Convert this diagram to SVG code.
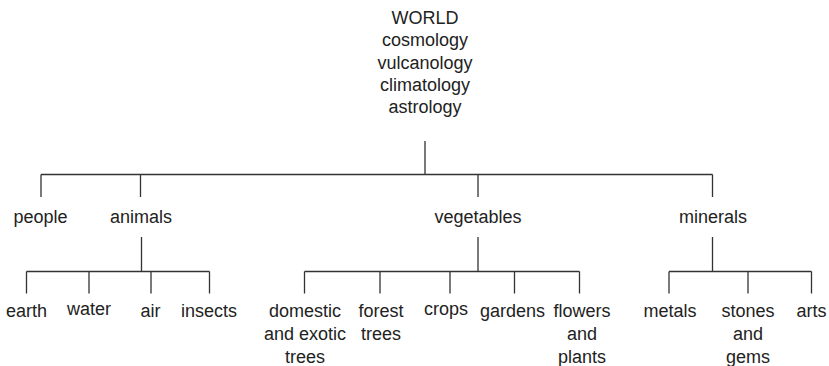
<svg xmlns="http://www.w3.org/2000/svg" width="829" height="366" viewBox="0 0 829 366">
  <style>
    text { font-family: "Liberation Sans", Arial, sans-serif; font-size: 18px; fill: #222; text-anchor: middle; }
    .link { stroke: #333; stroke-width: 1.3; fill: none; }
  </style>
  <rect width="829" height="366" fill="#fff"/>

  <g id="connectors">
    <!-- root to first level -->
    <path class="link" d="M425 141V174.5M41 174.5H712.5M41 174.5V197M140.5 174.5V197M478 174.5V197M712.5 174.5V197"/>
    <!-- animals -->
    <path class="link" d="M141.5 237V271.5M26.5 271.5H209.5M26.5 271.5V293.5M89 271.5V293.5M151 271.5V293.5M209.5 271.5V293.5"/>
    <!-- vegetables -->
    <path class="link" d="M478 237V271.5M304.5 271.5H579.5M304.5 271.5V293.5M380 271.5V293.5M450 271.5V293.5M514.5 271.5V293.5M579.5 271.5V293.5"/>
    <!-- minerals -->
    <path class="link" d="M712.5 237V271.5M669 271.5H811.5M669 271.5V293.5M748 271.5V293.5M811.5 271.5V293.5"/>
  </g>

  <g id="world">
    <text x="425" y="23.5">WORLD</text>
    <text x="425" y="46.3">cosmology</text>
    <text x="425" y="68.6">vulcanology</text>
    <text x="425" y="90.9">climatology</text>
    <text x="425" y="113.2">astrology</text>
  </g>

  <g id="people"><text x="40.5" y="223">people</text></g>
  <g id="animals"><text x="141" y="223">animals</text></g>
  <g id="vegetables"><text x="478" y="223">vegetables</text></g>
  <g id="minerals"><text x="713" y="223">minerals</text></g>

  <g id="earth"><text x="26.5" y="316.5">earth</text></g>
  <g id="water"><text x="89" y="315">water</text></g>
  <g id="air"><text x="150.5" y="316.5">air</text></g>
  <g id="insects"><text x="209" y="316.5">insects</text></g>

  <g id="domestic-exotic-trees">
    <text x="305" y="316.5">domestic</text>
    <text x="305" y="339.5">and exotic</text>
    <text x="305" y="362.5">trees</text>
  </g>
  <g id="forest-trees">
    <text x="381" y="316.5">forest</text>
    <text x="381" y="339.5">trees</text>
  </g>
  <g id="crops"><text x="446" y="315">crops</text></g>
  <g id="gardens"><text x="512.5" y="316.5">gardens</text></g>
  <g id="flowers-plants">
    <text x="582" y="316.5">flowers</text>
    <text x="582" y="339.5">and</text>
    <text x="582" y="362.5">plants</text>
  </g>

  <g id="metals"><text x="670" y="316.5">metals</text></g>
  <g id="stones-gems">
    <text x="748" y="316.5">stones</text>
    <text x="748" y="339.5">and</text>
    <text x="748" y="362.5">gems</text>
  </g>
  <g id="arts"><text x="811.5" y="316.5">arts</text></g>
</svg>
